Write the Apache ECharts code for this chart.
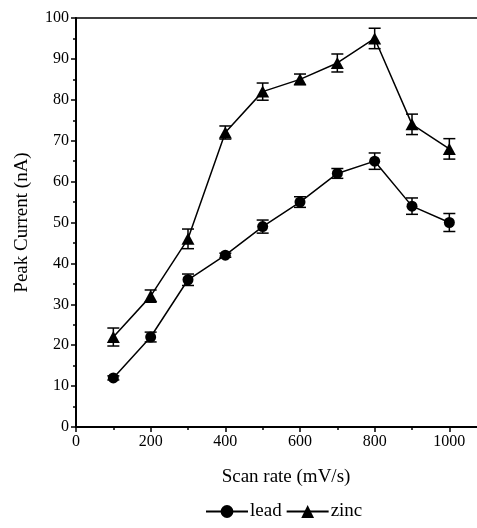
<!DOCTYPE html>
<html>
<head>
<meta charset="utf-8">
<script src="https://cdn.jsdelivr.net/npm/echarts@6/dist/echarts.min.js"></script>
<style>html,body{margin:0;padding:0;background:#fff;}#c{width:477px;height:528px;}</style>
</head>
<body>
<div id="c"></div>
<script>
var scanRates = [100, 200, 300, 400, 500, 600, 700, 800, 900, 1000];
var leadValues = [12, 22, 36, 42, 49, 55, 62, 65, 54, 50];
var leadErrors = [0.5, 1.2, 1.4, 0.5, 1.6, 1.3, 1.2, 2.0, 2.0, 2.2];
var zincValues = [22, 32, 46, 72, 82, 85, 89, 95, 74, 68];
var zincErrors = [2.2, 1.5, 2.4, 1.6, 2.1, 1.3, 2.2, 2.5, 2.5, 2.5];
var seriesNames = ['lead', 'zinc'];
var xTitle = 'Scan rate (mV/s)';
var yTitle = 'Peak Current (nA)';

var FONT = '"Liberation Serif", "Times New Roman", serif';

function pairs(xs, ys) { return xs.map(function (x, i) { return [x, ys[i]]; }); }
function errData(xs, ys, es) { return xs.map(function (x, i) { return [x, ys[i] - es[i], ys[i] + es[i]]; }); }

function errRender(params, api) {
  var x = api.value(0), lo = api.value(1), hi = api.value(2);
  var pLo = api.coord([x, lo]), pHi = api.coord([x, hi]);
  var hw = 6;
  var style = { stroke: '#000', lineWidth: 1.5, fill: null };
  return {
    type: 'group',
    children: [
      { type: 'line', shape: { x1: pLo[0], y1: pLo[1], x2: pHi[0], y2: pHi[1] }, style: style },
      { type: 'line', shape: { x1: pLo[0] - hw, y1: pLo[1], x2: pLo[0] + hw, y2: pLo[1] }, style: style },
      { type: 'line', shape: { x1: pHi[0] - hw, y1: pHi[1], x2: pHi[0] + hw, y2: pHi[1] }, style: style }
    ]
  };
}

var chart = echarts.init(document.getElementById('c'), null, { renderer: 'canvas' });
chart.setOption({
  animation: false,
  backgroundColor: '#fff',
  grid: { left: 76, top: 18, width: 448, height: 409, containLabel: false, outerBoundsMode: 'none' },
  legend: {
    data: seriesNames,
    bottom: 2,
    left: 200,
    itemWidth: 42,
    itemHeight: 16,
    itemGap: 4,
    textStyle: { fontFamily: FONT, fontSize: 19, color: '#000', padding: [0, 0, 0, -3] }
  },
  xAxis: [{
    type: 'value', min: 0, max: 1200, interval: 200,
    position: 'bottom',
    name: xTitle, nameLocation: 'middle', nameGap: 41,
    nameTextStyle: { fontFamily: FONT, fontSize: 19, color: '#000', padding: [0, 28, 0, 0] },
    axisLine: { show: true, onZero: false, lineStyle: { color: '#000', width: 2 } },
    axisTick: { show: true, inside: false, length: 5, lineStyle: { color: '#000', width: 1.5 } },
    minorTick: { show: true, splitNumber: 2, length: 3, lineStyle: { color: '#000', width: 1.5 } },
    axisLabel: { fontFamily: FONT, fontSize: 16, color: '#000', margin: 7, formatter: function (v) { return String(v); } },
    splitLine: { show: false }, minorSplitLine: { show: false }
  }, {
    type: 'value', min: 0, max: 1200, position: 'top',
    axisLine: { show: true, onZero: false, lineStyle: { color: '#000', width: 1.5 } },
    axisTick: { show: false }, axisLabel: { show: false }, splitLine: { show: false }
  }],
  yAxis: {
    type: 'value', min: 0, max: 100, interval: 10,
    name: yTitle, nameLocation: 'middle', nameGap: 44,
    nameTextStyle: { fontFamily: FONT, fontSize: 19, color: '#000' },
    axisLine: { show: true, onZero: false, lineStyle: { color: '#000', width: 2 } },
    axisTick: { show: true, inside: false, length: 5, lineStyle: { color: '#000', width: 1.5 } },
    minorTick: { show: true, splitNumber: 2, length: 3, lineStyle: { color: '#000', width: 1.5 } },
    axisLabel: { fontFamily: FONT, fontSize: 16, color: '#000', margin: 7 },
    splitLine: { show: false }, minorSplitLine: { show: false }
  },
  series: [{
    name: seriesNames[0], type: 'line', data: pairs(scanRates, leadValues),
    symbol: 'circle', symbolSize: 11, showAllSymbol: true,
    lineStyle: { color: '#000', width: 1.5 }, itemStyle: { color: '#000' }, z: 3
  }, {
    name: seriesNames[1], type: 'line', data: pairs(scanRates, zincValues),
    symbol: 'triangle', symbolSize: [13, 12], showAllSymbol: true,
    lineStyle: { color: '#000', width: 1.5 }, itemStyle: { color: '#000' }, z: 3
  }, {
    type: 'custom', renderItem: errRender, data: errData(scanRates, leadValues, leadErrors),
    encode: { x: 0, y: [1, 2] }, z: 2, silent: true
  }, {
    type: 'custom', renderItem: errRender, data: errData(scanRates, zincValues, zincErrors),
    encode: { x: 0, y: [1, 2] }, z: 2, silent: true
  }]
});
</script>
</body>
</html>
